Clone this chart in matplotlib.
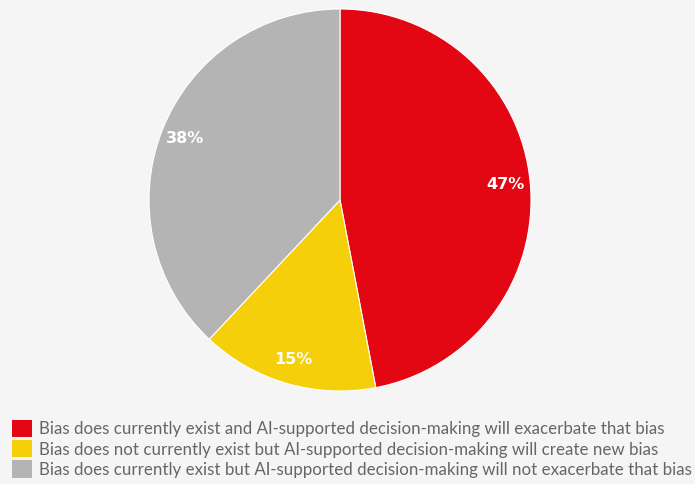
import matplotlib.pyplot as plt
from matplotlib.patches import Patch

labels = [
    "Bias does currently exist and AI-supported decision-making will exacerbate that bias",
    "Bias does not currently exist but AI-supported decision-making will create new bias",
    "Bias does currently exist but AI-supported decision-making will not exacerbate that bias",
]
values = [47, 15, 38]
colors = ["#e30613", "#f4cf0a", "#b4b4b4"]

bg = "#f5f5f5"
fig = plt.figure(figsize=(6.95, 4.84), dpi=100, facecolor=bg)
W, H = 695, 484
cx, cy, r = 340, 200, 191
ax = fig.add_axes([(cx - r) / W, (H - cy - r) / H, 2 * r / W, 2 * r / H])
ax.set_facecolor(bg)

wedges, texts, autotexts = ax.pie(
    values, colors=colors, startangle=90, counterclock=False,
    autopct="%d%%", pctdistance=0.87, radius=1,
    wedgeprops=dict(edgecolor="white", linewidth=0.8),
    textprops=dict(color="white", fontsize=11.5, fontweight="bold", family="DejaVu Sans"),
)
ax.set_xlim(-1, 1)
ax.set_ylim(-1, 1)
ax.axis("off")

handles = [Patch(facecolor=c, edgecolor="none") for c in colors]
leg = fig.legend(
    handles, labels, loc="lower left", bbox_to_anchor=(0.012, 0.006),
    frameon=False, handlelength=1.18, handleheight=1.18, handletextpad=0.45,
    labelspacing=0.17, borderaxespad=0.0, borderpad=0.2,
    prop=dict(family="Lato", size=12.15),
)
for t in leg.get_texts():
    t.set_color("#666666")

fig.savefig("out.png", dpi=100, facecolor=bg)
